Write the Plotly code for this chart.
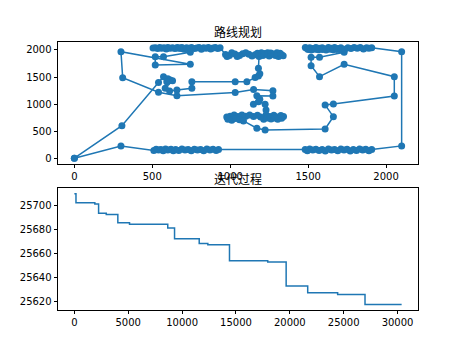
import plotly.graph_objects as go

# ---- Route (tour) coordinates ----
route_x = [0, 305, 540, 572, 600, 615, 593, 630, 583, 611, 658, 754, 754, 1032, 1107, 1160, 1181, 1190, 1181,
           1185, 1210, 1230, 1250, 1270, 1290, 1310, 1330, 1340, 1320, 1300, 1280, 1260, 1240, 1220, 1200, 1175, 1160,
           1140, 1120, 1100, 1080, 1060, 1045, 1030, 1010, 995, 980, 970,
           935, 920, 905, 890, 875, 860, 845, 830, 815, 800, 785, 770, 752, 735, 720, 700, 690, 675, 660, 645, 630,
           615, 600, 590, 575, 560, 548, 535, 520, 505,
           744, 572, 519, 519, 744, 299, 310, 540, 658, 1032,
           1150, 1274, 1274, 1171, 1190, 1149, 1181, 1224, 1230,
           1230, 1255, 1280, 1300, 1325, 1342, 1330, 1305, 1285, 1262, 1240, 1215, 1195, 1175, 1150, 1125, 1100, 1075,
           1050, 1025, 1000, 978, 985, 1010, 1035, 1060, 1085,
           1171, 1224, 1609, 1662, 1609, 1662, 2053, 2053, 1731, 1573, 1519, 1519, 1573, 1731,
           1710, 1690, 1670, 1650, 1630, 1610, 1590, 1570, 1550, 1530, 1510, 1490, 1482, 1500, 1520, 1545, 1565, 1590,
           1615, 1640, 1660, 1685, 1710, 1735, 1755, 1775, 1795, 1815, 1835, 1855, 1875, 1890, 1908,
           2100, 2100,
           1908, 1890, 1870, 1850, 1830, 1810, 1790, 1770, 1750, 1730, 1710, 1690, 1670, 1650, 1630, 1610, 1590, 1570,
           1550, 1530, 1510, 1495, 1481,
           925, 910, 890, 870, 850, 830, 810, 790, 770, 750, 730, 710, 690, 670, 650, 635, 620, 600, 585, 570, 555,
           540, 525, 510,
           299, 0]
route_y = [0, 602, 1400, 1507, 1470, 1446, 1415, 1430, 1293, 1243, 1262, 1293, 1415, 1415, 1415, 1490, 1520, 1560, 1662,
           1880, 1900, 1920, 1890, 1930, 1900, 1880, 1910, 1895, 1940, 1950, 1915, 1945, 1950, 1935, 1950, 1940, 1910,
           1890, 1920, 1950, 1930, 1900, 1880, 1925, 1950, 1900, 1880, 1915,
           2040, 2025, 2045, 2035, 2020, 2045, 2030, 2040, 2015, 2045, 2035, 2025, 2045, 2030, 2040, 2020, 2045, 2035,
           2045, 2025, 2040, 2030, 2045, 2020, 2040, 2030, 2045, 2025, 2040, 2035,
           1957, 1876, 1876, 1723, 1735, 1969, 1489, 1219, 1156, 1215,
           1270, 1248, 1150, 1156, 1090, 997, 1045, 997, 890,
           800, 770, 795, 760, 790, 770, 740, 720, 745, 725, 745, 720, 760, 795, 770, 800, 775, 800,
           770, 800, 775, 760, 720, 700, 735, 710, 690,
           554, 522, 541, 768, 984, 1000, 1150, 1507, 1735, 1507, 1710, 1865, 1865, 1957,
           2040, 2025, 2045, 2030, 2045, 2020, 2040, 2030, 2045, 2025, 2040, 2030, 2045, 2010, 2000, 2015, 2005, 2010,
           2000, 2015, 2005, 2010, 2000, 2015, 2040, 2025, 2045, 2030, 2045, 2020, 2040, 2030, 2040,
           1969, 227,
           160, 140, 165, 150, 170, 145, 160, 135, 165, 150, 170, 140, 160, 150, 170, 135, 160, 145,
           165, 150, 170, 140, 160,
           160, 145, 165, 150, 170, 140, 160, 150, 165, 140, 160, 150, 170, 145, 160, 140, 165, 150, 170, 140, 160,
           150, 165, 145,
           227, 0]

# ---- Convergence (best distance per iteration, step changes) ----
iter_x = [0, 150, 1900, 2250, 2960, 4035, 5120, 8670, 9300, 11590, 12390, 14400, 17950, 19660, 21660, 24440, 26980, 30380]
best_y = [25710, 25702.5, 25701.5, 25693.7, 25692.6, 25685.7, 25684.6, 25681.3, 25672.5, 25668.4, 25667.3, 25654.1,
          25653.0, 25633.0, 25627.2, 25625.8, 25617.5, 25617.5]

title_top = "路线规划"
title_bottom = "迭代过程"

C = "#1f77b4"
fig = go.Figure()
fig.add_trace(go.Scatter(x=route_x, y=route_y, mode="lines+markers",
                         line=dict(color=C, width=1.5), marker=dict(color=C, size=7),
                         xaxis="x", yaxis="y", showlegend=False))
fig.add_trace(go.Scatter(x=iter_x, y=best_y, mode="lines", line=dict(color=C, width=1.5, shape="hv"),
                         xaxis="x2", yaxis="y2", showlegend=False))


def rng(v):
    lo, hi = min(v), max(v)
    r = hi - lo
    return [lo - 0.05 * r, hi + 0.05 * r]


ax = dict(showline=True, linecolor="black", linewidth=0.8, mirror=True, ticks="outside", ticklen=3.5,
          tickwidth=0.8, tickcolor="black", showgrid=False, zeroline=False, tickformat="d",
          tickfont=dict(family="DejaVu Sans", size=10, color="black"))

top_dom = [0.5456, 1.0]
bot_dom = [0.0, 0.4544]
fig.update_layout(
    width=465, height=349, margin=dict(l=58, r=46.5, t=42, b=38.5),
    paper_bgcolor="white", plot_bgcolor="white",
    xaxis=dict(ax, range=rng(route_x), tickvals=[0, 500, 1000, 1500, 2000], anchor="y", domain=[0, 1]),
    yaxis=dict(ax, range=rng(route_y), tickvals=[0, 500, 1000, 1500, 2000], anchor="x", domain=top_dom),
    xaxis2=dict(ax, range=rng(iter_x), tickvals=[0, 5000, 10000, 15000, 20000, 25000, 30000], anchor="y2", domain=[0, 1]),
    yaxis2=dict(ax, range=rng(best_y), tickvals=[25620, 25640, 25660, 25680, 25700], anchor="x2", domain=bot_dom),
    annotations=[
        dict(text=title_top, xref="paper", yref="paper", x=0.5, y=1.0, yanchor="middle", yshift=10.5,
             showarrow=False, font=dict(family="Noto Sans CJK SC", size=12, color="black")),
        dict(text=title_bottom, xref="paper", yref="paper", x=0.5, y=bot_dom[1], yanchor="middle", yshift=9.5,
             showarrow=False, font=dict(family="Noto Sans CJK SC", size=12, color="black")),
    ],
)
fig.write_html("out.html")
